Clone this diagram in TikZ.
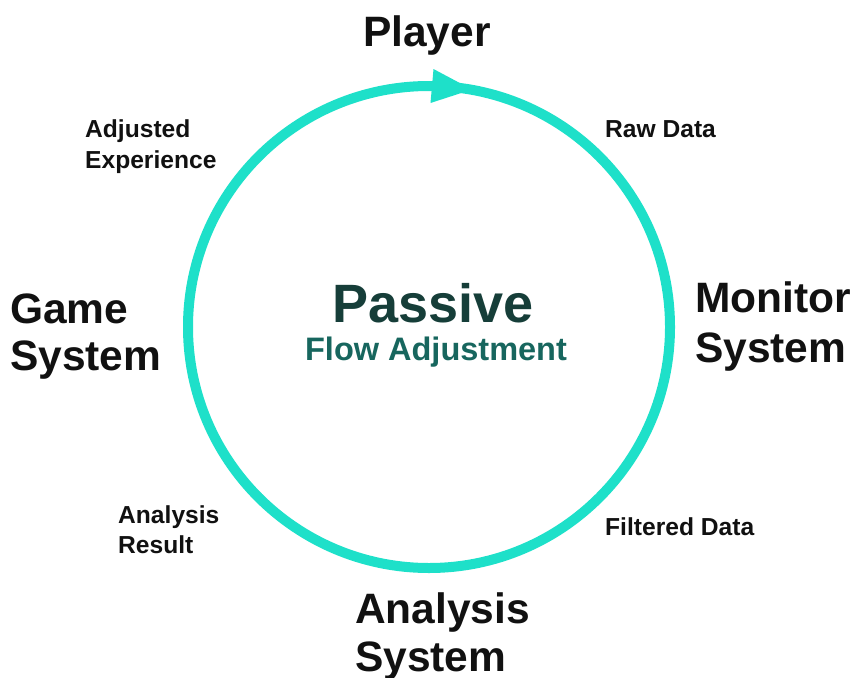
\documentclass[tikz,border=0pt]{standalone}
\usepackage{fontspec}
\setmainfont{Liberation Sans}
\definecolor{ring}{HTML}{1EE0C9}
\definecolor{txt}{HTML}{111111}
\definecolor{passc}{HTML}{163E39}
\definecolor{flowc}{HTML}{17665E}
\tikzset{
  big/.style={font=\fontsize{42.5}{48}\selectfont\bfseries, text=txt, inner sep=0pt, anchor=base west},
  small/.style={font=\fontsize{24.6}{30}\selectfont\bfseries, text=txt, inner sep=0pt, anchor=base west},
  ringline/.style={draw=ring, line width=10pt},
}
\begin{document}
\begin{tikzpicture}[x=1pt,y=-1pt]
\useasboundingbox (0,0) rectangle (856,677);
\coordinate (c) at (429,327);
\draw[ringline] (c) circle[radius=241pt];
\coordinate (tip) at (472,89.5);
\coordinate (b1) at (433.5,69);
\coordinate (b2) at (430.5,103);
\fill[ring] (b1) -- (tip) -- (b2) -- cycle;

\node[big, anchor=base] (player) at (427,47) {Player};
\node[big] (game1) at (10,323) {Game};
\node[big] (game2) at (10,370) {System};
\node[big] (mon1) at (695,312) {Monitor};
\node[big] (mon2) at (695,362) {System};
\node[big] (ana1) at (355,623) {Analysis};
\node[big] (ana2) at (355,671) {System};

\node[small] (adj1) at (85,137) {Adjusted};
\node[small] (adj2) at (85,168) {Experience};
\node[small] (raw) at (605,137) {Raw Data};
\node[small] (res1) at (118,523) {Analysis};
\node[small] (res2) at (118,553) {Result};
\node[small] (filt) at (605,535) {Filtered Data};

\node[font=\fontsize{54}{60}\selectfont\bfseries, text=passc, inner sep=0pt, anchor=base] (passive) at (433,322) {Passive};
\node[font=\fontsize{32.5}{38}\selectfont\bfseries, text=flowc, inner sep=0pt, anchor=base] (flow) at (436,360) {Flow Adjustment};
\end{tikzpicture}
\end{document}
